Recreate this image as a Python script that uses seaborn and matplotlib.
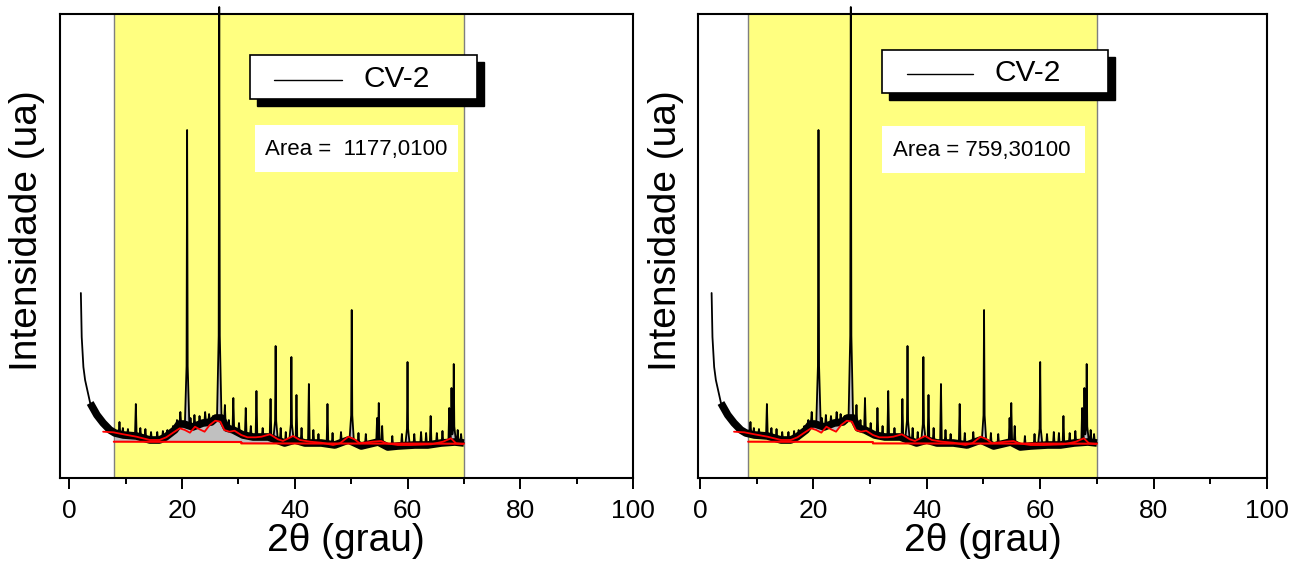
import numpy as np
import matplotlib
matplotlib.use("Agg")
import matplotlib.pyplot as plt
import seaborn as sns
from matplotlib.patches import Rectangle
from matplotlib.lines import Line2D
from matplotlib import font_manager as fm

# ---------------- data ----------------
# background of the diffractogram (centre of the noisy band), 2theta in degrees, intensity in a.u.
bg_x = [2.05, 2.2, 2.5, 2.8, 3.7, 4.9, 6.0, 7.2, 8.1, 9.6, 11.9, 14.3, 16.0, 17.1, 18.7,
        19.5, 20.3, 21.9, 23.7, 25.2, 26.0, 27.0, 27.9, 29.1, 30.8, 32.6, 35.3, 38.2, 40.0,
        41.8, 44.7, 47.1, 49.5, 51.8, 54.8, 56.5, 58.3, 61.3, 63.6, 66.0, 68.4, 70.0]
bg_y = [185, 141, 111, 98, 75, 63, 55, 48, 45, 43, 42, 38, 38, 41, 48,
        54, 54, 51, 55, 56, 60, 60, 50, 48, 43, 41, 41, 35, 38,
        35, 35, 33, 38, 32, 36, 31, 32, 33, 33, 35, 36, 35]

# reflections: position (2theta) and apex intensity
peak_pos = [8.9, 9.5, 10.4, 11.8, 12.6, 13.5, 14.5, 15.6, 16.6, 17.4, 18.4, 19.1, 19.7,
            20.9, 21.5, 22.2, 23.1, 24.1, 24.8, 25.5, 26.6, 27.6, 28.3, 29.1, 30.1, 31.3,
            32.2, 33.2, 34.3, 35.7, 36.6, 37.5, 38.4, 39.4, 40.3, 41.2, 42.5, 43.3, 44.2,
            45.8, 46.7, 48.2, 50.1, 51.3, 52.6, 54.6, 54.9, 55.5, 57.3, 59.0, 60.0, 61.2,
            62.4, 63.3, 64.1, 65.2, 66.2, 67.4, 67.8, 68.2, 68.9, 69.5]
peak_int = [56, 50, 49, 74, 50, 49, 46, 46, 47, 48, 52, 58, 66,
            348, 60, 63, 62, 66, 64, 62, 471, 73, 58, 80, 55, 70,
            52, 87, 50, 79, 132, 50, 46, 121, 83, 50, 94, 48, 44,
            74, 45, 46, 168, 45, 44, 60, 75, 52, 42, 44, 116, 44,
            46, 45, 62, 45, 47, 70, 90, 114, 48, 44]

# smoothed background (red curve)
fit_x = [6.0, 7.8, 9.6, 11.9, 14.3, 16.0, 17.2, 18.4, 19.6, 20.5, 21.4, 22.3, 23.1, 24.0,
         24.9, 25.9, 26.8, 27.5, 28.4, 29.3, 30.5, 31.6, 33.1, 34.1, 35.6, 37.0, 37.9,
         39.7, 40.9, 42.7, 44.7, 46.8, 48.0, 49.5, 50.6, 51.5, 53.8, 55.3, 56.2, 58.3,
         60.6, 64.2, 66.3, 67.7, 68.6, 69.8]
fit_y = [46.3, 45.7, 43.7, 41.3, 38, 38, 40.7, 45.3, 49.7, 48, 45.3, 51.3, 48.7, 46.3,
         53, 57.3, 56.3, 48, 46.3, 47.3, 43, 40.7, 40.7, 41.3, 43.7, 38.7, 37,
         42, 38, 36.3, 35.3, 33, 34.7, 41.3, 38.7, 34.7, 36.3, 37, 34.7, 33,
         33, 33.7, 36.3, 39.7, 34.7, 34]

# straight integration baselines (red)
base_left_x = [7.9, 30.5, 30.5, 70.0]
base_left_y = [36.3, 36.0, 34.6, 34.3]
base_right_x = [8.5, 30.5, 30.5, 70.0]
base_right_y = [36.3, 36.0, 34.6, 34.3]

legend_label = "CV-2"
area_labels = ["Area =  1177,0100", "Area = 759,30100"]
region_left = [7.9, 70.1]
region_right = [8.5, 70.0]
x_ticks = [0, 20, 40, 60, 80, 100]
x_minor = [10, 30, 50, 70, 90]

# ---------------- build the pattern from background + reflections ----------------
bgx = np.array(bg_x, float)
bgy = np.array(bg_y, float)
verts = []
shapes = []
for p, h in zip(peak_pos, peak_int):
    b = np.interp(p, bgx, bgy)
    d = h - b
    if d > 60:
        px_ = [p - 0.40, p - 0.10, p, p + 0.10, p + 0.40]
        py_ = [np.interp(p - 0.40, bgx, bgy), b + 0.2 * d, h, b + 0.2 * d,
               np.interp(p + 0.40, bgx, bgy)]
    else:
        px_ = [p - 0.15, p, p + 0.15]
        py_ = [np.interp(p - 0.15, bgx, bgy), h, np.interp(p + 0.15, bgx, bgy)]
    shapes.append((px_, py_))
    verts.extend(px_)
spec_x = np.unique(np.concatenate([bgx, np.array(verts)]))
spec_x = spec_x[(spec_x >= bgx[0]) & (spec_x <= bgx[-1])]
spec_y = np.interp(spec_x, bgx, bgy)
for px_, py_ in shapes:
    yi = np.interp(spec_x, px_, py_, left=-1e9, right=-1e9)
    spec_y = np.maximum(spec_y, yi)

band_x = [x for x in bg_x if x >= 3.0]
band_y = [y for x, y in zip(bg_x, bg_y) if x >= 3.0]

# ---------------- style ----------------
sns.set_theme(style="white", rc={"text.color": "black", "axes.labelcolor": "black",
                                 "xtick.color": "black", "ytick.color": "black"})
plt.rcParams['font.family'] = ['Liberation Sans', 'DejaVu Sans']
names = {f.name for f in fm.fontManager.ttflist}
tick_font = 'Liberation Sans Narrow' if 'Liberation Sans Narrow' in names else 'Liberation Sans'
tick_size = 21 if tick_font == 'Liberation Sans Narrow' else 19

W, H = 1292, 562
fig = plt.figure(figsize=(W / 100, H / 100), dpi=100)
fig.patch.set_facecolor('white')

def fx(px):
    return px / W

def fy(py):
    return 1 - py / H

ax1 = fig.add_axes([fx(59.5), fy(478), (633 - 59.5) / W, 464 / H])
ax2 = fig.add_axes([fx(698), fy(478), (1267 - 698) / W, 464 / H])

panels = [
    (ax1, (-1.74, 100), region_left, base_left_x, base_left_y, 'baseline', 573.5),
    (ax2, (-0.35, 100), region_right, base_right_x, base_right_y, 'fit', 569.0),
]

for ax, xl, reg, bx, by, mode, wpx in panels:
    ax.set_facecolor('white')
    ax.axvspan(reg[0], reg[1], facecolor='#FFFF80', edgecolor='none', zorder=0)
    for xe in reg:
        ax.axvline(xe, color='#7f7f7f', lw=1.0, zorder=0.5)
    # gray integrated area
    m = (spec_x >= reg[0]) & (spec_x <= reg[1])
    if mode == 'baseline':
        ref = np.interp(spec_x, bx, by)
    else:
        ref = np.interp(spec_x, fit_x, fit_y)
    ax.fill_between(spec_x, spec_y, ref, where=m & (spec_y > ref), interpolate=True,
                    facecolor='#c0c0c0', edgecolor='none', zorder=1)
    # noisy band + pattern
    sns.lineplot(x=band_x, y=band_y, ax=ax, color='black', lw=5.5, sort=False,
                 estimator=None, zorder=2, legend=False, solid_capstyle='butt')
    sns.lineplot(x=spec_x, y=spec_y, ax=ax, color='black', lw=1.3, sort=False,
                 estimator=None, zorder=3, legend=False)
    ax.lines[-1].set_clip_on(False)
    # red curves
    sns.lineplot(x=fit_x, y=fit_y, ax=ax, color='#ff0000', lw=1.3, sort=False,
                 estimator=None, zorder=4, legend=False)
    sns.lineplot(x=bx, y=by, ax=ax, color='#ff0000', lw=1.5, sort=False,
                 estimator=None, zorder=4, legend=False)

    ax.set_xlim(*xl)
    ax.set_ylim(0, 464)
    ax.set_yticks([])
    ax.set_xticks(x_ticks)
    ax.set_xticks(x_minor, minor=True)
    ax.set_xticklabels([str(t) for t in x_ticks], fontsize=tick_size, family=tick_font)
    ax.tick_params(axis='x', which='major', direction='out', length=8, width=1.4,
                   color='black', pad=7, bottom=True, labelcolor='black')
    ax.tick_params(axis='x', which='minor', direction='out', length=4.5, width=1.4,
                   color='black', bottom=True)
    for s in ax.spines.values():
        s.set_color('black')
        s.set_linewidth(1.5)
        s.set_zorder(6)
    ax.set_xlabel('2θ (grau)', fontsize=28, labelpad=0, color='black')
    ax.set_ylabel('Intensidade (ua)', fontsize=28, color='black')
    ax.yaxis.set_label_coords(-14.0 / wpx, 0.534)

# legend boxes and area boxes (figure pixel coordinates)
leg_boxes = [(250, 55, 477, 99, 274, 342, 80, 363), (882, 50, 1108, 93, 907, 973, 74, 995)]
area_boxes = [(255, 125, 458, 172, 265, 150), (882, 126, 1085, 173, 893, 150.5)]
for (x0, y0, x1, y1, l0, l1, ly, tx), (a0, b0, a1, b1, atx, aty), alab in zip(
        leg_boxes, area_boxes, area_labels):
    fig.patches.append(Rectangle((fx(x0 + 7), fy(y1 + 7)), (x1 - x0) / W, (y1 - y0) / H,
                                 transform=fig.transFigure, facecolor='black',
                                 edgecolor='black', zorder=10))
    fig.patches.append(Rectangle((fx(x0), fy(y1)), (x1 - x0) / W, (y1 - y0) / H,
                                 transform=fig.transFigure, facecolor='white',
                                 edgecolor='black', lw=1.2, zorder=11))
    fig.lines.append(Line2D([fx(l0), fx(l1)], [fy(ly), fy(ly)], transform=fig.transFigure,
                            color='black', lw=1.0, zorder=12))
    fig.text(fx(tx), fy(ly - 1), legend_label, fontsize=21.5, ha='left', va='center',
             zorder=12, color='black')
    fig.patches.append(Rectangle((fx(a0), fy(b1)), (a1 - a0) / W, (b1 - b0) / H,
                                 transform=fig.transFigure, facecolor='white',
                                 edgecolor='none', zorder=10))
    fig.text(fx(atx), fy(aty), alab, fontsize=16, ha='left', va='center', zorder=12,
             color='black')

fig.savefig('out.png', dpi=100)
